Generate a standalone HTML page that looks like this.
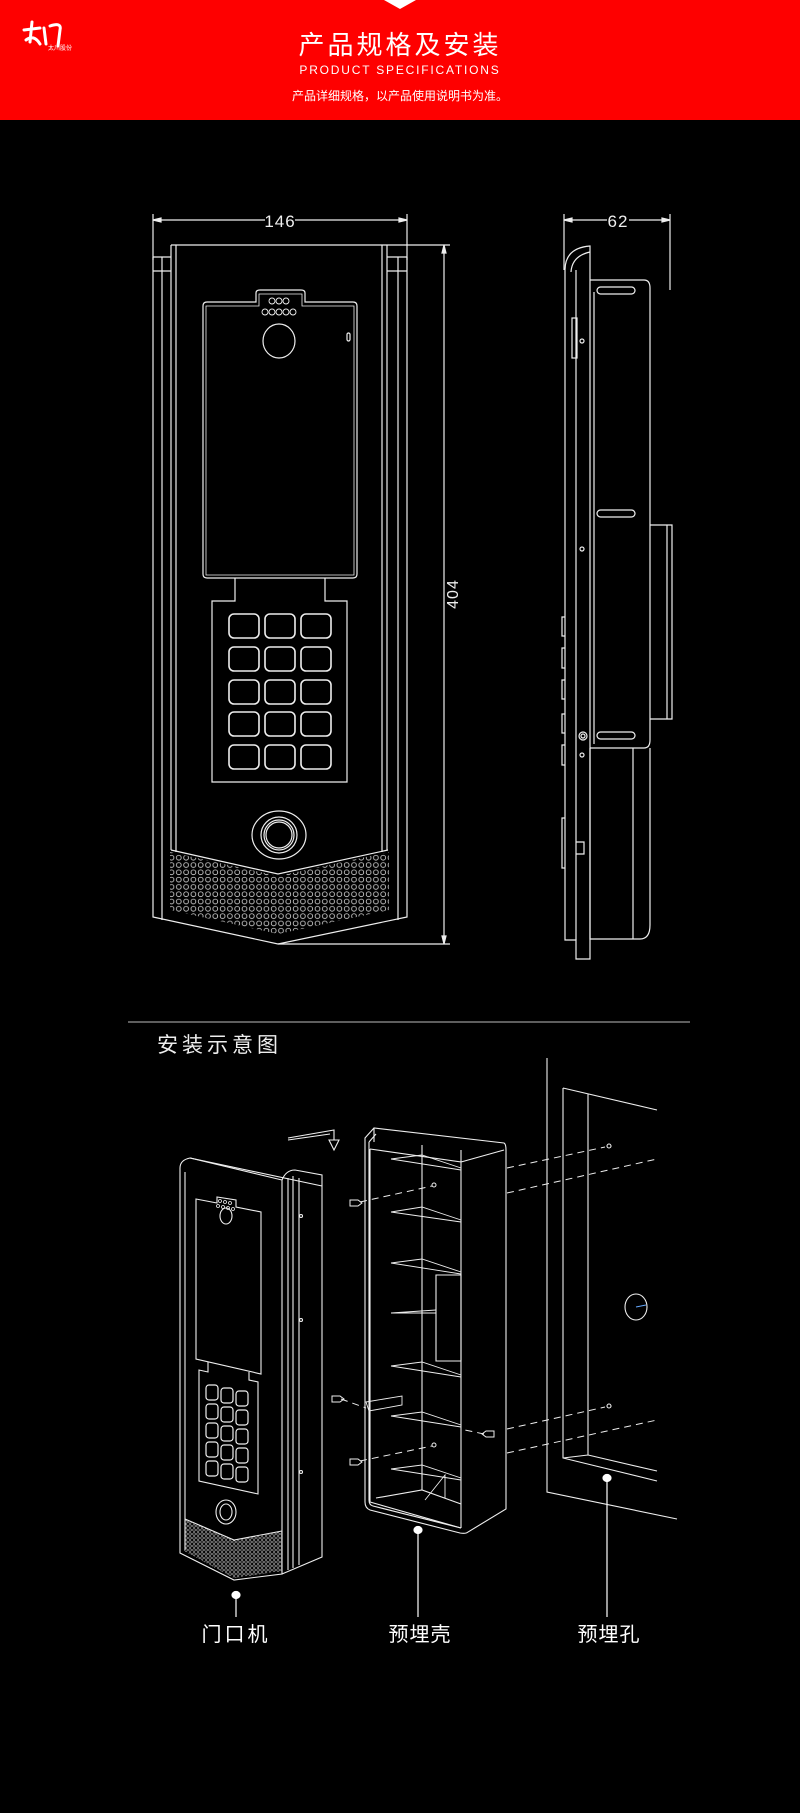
<!DOCTYPE html>
<html><head><meta charset="utf-8"><style>
html,body{margin:0;padding:0;background:#000;}
svg{display:block}
text{font-family:"Liberation Sans","Noto Sans CJK SC",sans-serif;}
</style></head><body>
<svg width="800" height="1813" viewBox="0 0 800 1813" xmlns="http://www.w3.org/2000/svg">
<defs>
<pattern id="dots" x="0" y="0" width="7.3" height="7.3" patternUnits="userSpaceOnUse">
<circle cx="3.6" cy="3.6" r="2.4" fill="none" stroke="#ddd" stroke-width="0.8"/>
</pattern>
<pattern id="dots2" x="0" y="0" width="4" height="4" patternUnits="userSpaceOnUse">
<circle cx="2" cy="2" r="1.3" fill="none" stroke="#ccc" stroke-width="0.6"/>
</pattern>
</defs>
<rect width="800" height="1813" fill="#000"/>
<!-- header -->
<rect x="0" y="0" width="800" height="120" fill="#fe0000"/>
<polygon points="384,0 416,0 400,9" fill="#fff"/>
<g stroke="#fff" stroke-width="3" fill="none" stroke-linecap="round">
<path d="M24,30 L40,28 M32,22 L30,42 M26,40 Q34,34 40,44"/>
<path d="M44,28 L46,44 M50,26 Q62,22 60,30 L58,46"/>
</g>
<text x="48" y="50" fill="#fff" font-size="6">太川股份</text>
<text x="400" y="54" fill="#fff" font-size="26" text-anchor="middle" letter-spacing="3">产品规格及安装</text>
<text x="400" y="74" fill="#fff" font-size="12" text-anchor="middle" letter-spacing="1.8">PRODUCT  SPECIFICATIONS</text>
<text x="400" y="100" fill="#fff" font-size="12" text-anchor="middle">产品详细规格，以产品使用说明书为准。</text>

<g stroke="#eee" stroke-width="1.2" fill="none">
<!-- FRONT VIEW -->
<line x1="153" y1="220" x2="407" y2="220"/>
<line x1="153" y1="214" x2="153" y2="260"/><line x1="407" y1="214" x2="407" y2="260"/>
<path d="M153,220 l8,-2 v4z M407,220 l-8,-2 v4z" fill="#eee"/>
<path d="M171,245 H387 M387,245 H450 M278,944 H450"/>
<line x1="444" y1="245" x2="444" y2="944"/>
<path d="M444,245 l-2,8 h4z M444,944 l-2,-8 h4z" fill="#eee"/>
<path d="M171,245 V850 M176,245 V852 M387,245 V850 M382,245 V852"/>
<path d="M153,257 H171 M387,257 H407 M153,271 H171 M387,271 H407"/>
<path d="M153,257 V917 L278,944 L407,917 V257"/>
<path d="M162,257 V920 M398,257 V920"/>
<path d="M171,850 L278,874 L388,850"/>
<!-- screen -->
<path d="M203,306 Q203,302 207,302 H256 V293 Q256,290 260,290 H301 Q305,290 305,293 V302 H353 Q357,302 357,306 V574 Q357,578 353,578 H207 Q203,578 203,574Z"/>
<path d="M206,306 H259 V294 H302 V306 H354 V575 H206Z" stroke-width="0.8"/>
<ellipse cx="279" cy="341" rx="16" ry="17"/>
<g stroke-width="0.9">
<circle cx="272" cy="301" r="3"/><circle cx="279" cy="301" r="3"/><circle cx="286" cy="301" r="3"/>
<circle cx="265" cy="312" r="3"/><circle cx="272" cy="312" r="3"/><circle cx="279" cy="312" r="3"/><circle cx="286" cy="312" r="3"/><circle cx="293" cy="312" r="3"/>
</g>
<rect x="347" y="333" width="3" height="8" rx="1.5"/>
<!-- keypad -->
<path d="M235,578 V601 H212 V782 H347 V601 H325 V578"/>
<g stroke-width="1.6">
<rect x="229" y="614" width="30" height="24" rx="5"/><rect x="265" y="614" width="30" height="24" rx="5"/><rect x="301" y="614" width="30" height="24" rx="5"/>
<rect x="229" y="647" width="30" height="24" rx="5"/><rect x="265" y="647" width="30" height="24" rx="5"/><rect x="301" y="647" width="30" height="24" rx="5"/>
<rect x="229" y="680" width="30" height="24" rx="5"/><rect x="265" y="680" width="30" height="24" rx="5"/><rect x="301" y="680" width="30" height="24" rx="5"/>
<rect x="229" y="712" width="30" height="24" rx="5"/><rect x="265" y="712" width="30" height="24" rx="5"/><rect x="301" y="712" width="30" height="24" rx="5"/>
<rect x="229" y="745" width="30" height="24" rx="5"/><rect x="265" y="745" width="30" height="24" rx="5"/><rect x="301" y="745" width="30" height="24" rx="5"/>
</g>
<ellipse cx="279" cy="835" rx="27" ry="24"/>
<circle cx="279" cy="835" r="18"/><circle cx="279" cy="835" r="15"/><circle cx="279" cy="835" r="13"/>
</g>
<polygon points="170,852 278,876 389,852 389,910 278,934 170,910" fill="url(#dots)"/>
<text transform="translate(458,594) rotate(-90)" fill="#eee" font-size="16" text-anchor="middle" font-family="Liberation Serif,serif" letter-spacing="1">404</text>
<rect x="265" y="212" width="30" height="16" fill="#000"/>
<text x="280" y="227" fill="#eee" font-size="17" text-anchor="middle" font-family="Liberation Serif,serif" letter-spacing="1">146</text>

<!-- SIDE VIEW -->
<g stroke="#eee" stroke-width="1.2" fill="none">
<line x1="564" y1="220" x2="670" y2="220"/>
<line x1="564" y1="214" x2="564" y2="270"/><line x1="670" y1="214" x2="670" y2="290"/>
<path d="M564,220 l8,-2 v4z M670,220 l-8,-2 v4z" fill="#eee"/>
<path d="M565,270 Q565,248 590,246 V959 H576 V940 H565 Z"/>
<path d="M571,272 Q572,256 590,252"/>
<path d="M576,270 V940"/>
<path d="M590,280 H644 Q650,280 650,288 V740 Q650,748 644,748 H590"/>
<path d="M594,292 V744"/>
<path d="M650,525 H672 V719 H650 M667,525 V719"/>
<path d="M590,748 V939 H640 Q650,939 650,925 V748 M633,748 V939"/>
<rect x="597" y="287" width="38" height="7" rx="3.5"/>
<rect x="597" y="510" width="38" height="7" rx="3.5"/>
<rect x="597" y="732" width="38" height="7" rx="3.5"/>
<circle cx="582" cy="341" r="2"/><circle cx="582" cy="549" r="2"/><circle cx="583" cy="736" r="4"/><circle cx="583" cy="736" r="2"/><circle cx="582" cy="755" r="2"/>
<rect x="572" y="318" width="5" height="40"/>
<path d="M565,617 h-3 v19 h3 M565,648 h-3 v20 h3 M565,680 h-3 v19 h3 M565,714 h-3 v19 h3 M565,745 h-3 v20 h3"/>
<path d="M565,818 h-3 v50 h3 M576,842 h8 v12 h-8"/>
</g>
<rect x="607" y="212" width="22" height="16" fill="#000"/>
<text x="618" y="227" fill="#eee" font-size="17" text-anchor="middle" font-family="Liberation Serif,serif" letter-spacing="1">62</text>

<!-- separator -->
<line x1="128" y1="1022" x2="690" y2="1022" stroke="#bbb" stroke-width="1"/>
<text x="157" y="1052" fill="#eee" font-size="21" letter-spacing="4">安装示意图</text>

<!-- INSTALL -->
<polygon points="184,1519 234,1540 282,1531 282,1571 234,1578 184,1551" fill="url(#dots2)"/>
<g stroke="#eee" stroke-width="1.1" fill="none">
<!-- door unit -->
<path d="M180,1168 Q180,1160 190,1158 L282,1180 L282,1574 L234,1580 L180,1553 Z"/>
<path d="M185,1172 L185,1550 M190,1158 L322,1186 M282,1180 Q286,1170 295,1170 L322,1175 L322,1557 L282,1574"/>
<path d="M288,1178 V1570 M293,1176 V1568 M299,1178 V1565"/>
<path d="M196,1199 L217,1203 V1197 L236,1200 V1207 L261,1212 V1374 L196,1359 Z"/>
<path d="M208,1362 V1372 L199,1370 V1481 L258,1494 V1382 L249,1380 V1372"/>
<circle cx="301" cy="1216" r="1.5"/><circle cx="301" cy="1320" r="1.5"/><circle cx="301" cy="1472" r="1.5"/>
<ellipse cx="226" cy="1216" rx="6" ry="8"/>
<g stroke-width="0.8">
<circle cx="220" cy="1201" r="1.5"/><circle cx="225" cy="1202" r="1.5"/><circle cx="230" cy="1203" r="1.5"/>
<circle cx="218" cy="1206" r="1.5"/><circle cx="223" cy="1207" r="1.5"/><circle cx="228" cy="1208" r="1.5"/><circle cx="233" cy="1209" r="1.5"/>
</g>
<g stroke-width="1.2">
<rect x="206" y="1385" width="12" height="15" rx="3"/><rect x="221" y="1388" width="12" height="15" rx="3"/><rect x="236" y="1391" width="12" height="15" rx="3"/>
<rect x="206" y="1404" width="12" height="15" rx="3"/><rect x="221" y="1407" width="12" height="15" rx="3"/><rect x="236" y="1410" width="12" height="15" rx="3"/>
<rect x="206" y="1423" width="12" height="15" rx="3"/><rect x="221" y="1426" width="12" height="15" rx="3"/><rect x="236" y="1429" width="12" height="15" rx="3"/>
<rect x="206" y="1442" width="12" height="15" rx="3"/><rect x="221" y="1445" width="12" height="15" rx="3"/><rect x="236" y="1448" width="12" height="15" rx="3"/>
<rect x="206" y="1461" width="12" height="15" rx="3"/><rect x="221" y="1464" width="12" height="15" rx="3"/><rect x="236" y="1467" width="12" height="15" rx="3"/>
</g>
<ellipse cx="226" cy="1512" rx="10" ry="12"/><ellipse cx="226" cy="1512" rx="6" ry="8"/>
<path d="M185,1519 L234,1540 L282,1531"/>
<!-- arrow -->
<path d="M288,1138 L334,1130 V1140 M288,1140 L330,1134"/>
<path d="M329,1140 H339 L334,1150 Z"/>
<!-- shell -->
<path d="M365,1138 L374,1128 L504,1143 Q506,1144 506,1150 V1509 L468,1532 Q466,1534 460,1533 L370,1510 Q365,1508 365,1502 Z"/>
<path d="M369,1142 L376,1134 M369,1142 V1500 Q369,1505 373,1506 L461,1528"/>
<path d="M370,1149 L461,1162 V1528 M370,1149 V1502 L461,1528"/>
<path d="M461,1162 L504,1150 M374,1128 L374,1142 M461,1150 L461,1162"/>
<path d="M422,1145 V1490 M376,1498 L422,1490 L461,1504"/>
<path d="M436,1275 H461 V1361 H436 Z"/>
<g stroke-width="0.9">
<path d="M391,1159 L422,1155 L461,1168 M391,1159 L461,1170"/>
<path d="M391,1212 L422,1207 L461,1220 M391,1212 L461,1222"/>
<path d="M391,1263 L422,1259 L461,1272 M391,1263 L461,1274"/>
<path d="M391,1313 L436,1310 M391,1313 L436,1313"/>
<path d="M391,1366 L422,1362 L461,1375 M391,1366 L461,1377"/>
<path d="M391,1416 L422,1412 L461,1425 M391,1416 L461,1427"/>
<path d="M391,1469 L422,1465 L461,1478 M391,1469 L461,1480"/>
<path d="M425,1500 L445,1475 L445,1498"/>
<path d="M366,1402 L402,1396 V1405 L369,1411 Z"/>
</g>
<!-- wall -->
<path d="M547,1058 V1492 L677,1519"/>
<path d="M563,1088 L657,1110 M563,1088 V1458 L657,1481 M588,1094 V1455 L657,1471 M563,1458 L588,1455"/>
<ellipse cx="636" cy="1307" rx="11" ry="13"/>
<path d="M636,1307 L646,1305" stroke="#6af"/>
<circle cx="609" cy="1146" r="2"/><circle cx="609" cy="1406" r="2"/>
</g>
<g stroke="#eee" stroke-width="1" fill="none" stroke-dasharray="7,5">
<path d="M507,1168 L605,1147 M507,1193 L657,1159 M507,1429 L605,1407 M507,1453 L657,1420"/>
<path d="M360,1202 L432,1186 M341,1399 L366,1408 M360,1461 L432,1446 M484,1434 L465,1430"/>
</g>
<g stroke="#eee" stroke-width="1" fill="none">
<path d="M350,1200 l8,0 l4,3 l-4,3 l-8,0 z"/><path d="M332,1396 l8,0 l4,3 l-4,3 l-8,0 z"/>
<path d="M350,1459 l8,0 l4,3 l-4,3 l-8,0 z"/><path d="M486,1431 l8,0 l0,6 l-8,0 l-4,-3 z"/>
<circle cx="434" cy="1185" r="2"/><circle cx="434" cy="1445" r="2"/>
</g>
<!-- labels -->
<g fill="#fff" stroke="#fff" stroke-width="1.2">
<ellipse cx="236" cy="1595" rx="4" ry="3.5"/><line x1="236" y1="1598" x2="236" y2="1617"/>
<ellipse cx="418" cy="1530" rx="4" ry="3.5"/><line x1="418" y1="1533" x2="418" y2="1617"/>
<ellipse cx="607" cy="1478" rx="4" ry="3.5"/><line x1="607" y1="1481" x2="607" y2="1617"/>
</g>
<text x="236" y="1641" fill="#fff" font-size="20" text-anchor="middle" letter-spacing="3">门口机</text>
<text x="420" y="1641" fill="#fff" font-size="20" text-anchor="middle" letter-spacing="1">预埋壳</text>
<text x="609" y="1641" fill="#fff" font-size="20" text-anchor="middle" letter-spacing="1">预埋孔</text>
</svg>
</body></html>
